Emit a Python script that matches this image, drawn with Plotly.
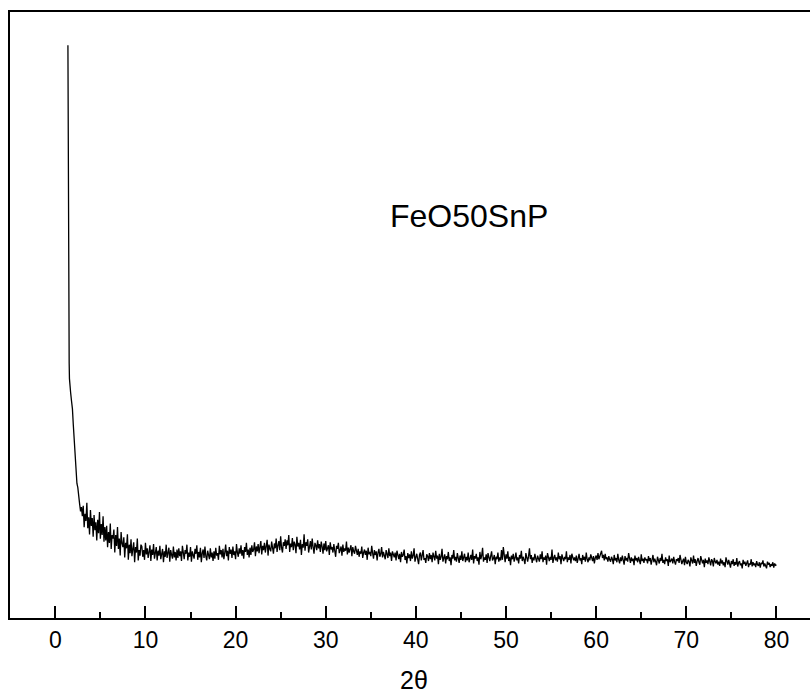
import numpy as np
import plotly.graph_objects as go

# Sharp low-angle peak (2theta, intensity)
peak_2theta = [1.40, 1.42, 1.44, 1.47, 1.50, 1.54, 1.57]
peak_int = [945, 760, 610, 520, 462, 420, 395]

# Main scan: 2theta from 1.6 to 80.0 in 0.1 degree steps
scan_start = 1.6
scan_step = 0.1
scan_int = [
    385, 372, 358, 345, 318, 290, 262, 248, 222, 215, 196, 188, 176, 183, 168, 185, 150, 172, 160, 190,
    148, 166, 138, 178, 152, 165, 134, 170, 145, 158, 128, 162, 140, 175, 131, 155, 137, 168, 126, 150,
    128, 152, 117, 142, 124, 156, 114, 137, 131, 146, 108, 137, 119, 150, 114, 131, 103, 142, 123, 117,
    133, 100, 124, 115, 138, 96, 121, 107, 130, 102, 114, 125, 92, 117, 108, 131, 95, 112, 103, 121,
    118, 101, 112, 96, 124, 105, 115, 99, 109, 120, 94, 113, 104, 122, 98, 108, 117, 95, 111, 103,
    119, 97, 106, 114, 92, 110, 101, 121, 99, 107, 116, 93, 112, 104, 98, 118, 100, 109, 95, 113,
    99, 115, 102, 110, 94, 119, 104, 97, 112, 106, 121, 95, 108, 101, 117, 93, 110, 103, 98, 114,
    106, 120, 96, 109, 100, 116, 92, 107, 113, 99, 118, 102, 95, 111, 104, 97, 115, 100, 108, 94,
    110, 98, 116, 103, 107, 96, 119, 105, 112, 100, 114, 97, 108, 121, 102, 111, 95, 117, 106, 113,
    99, 118, 104, 110, 97, 122, 108, 101, 115, 106, 120, 103, 112, 98, 117, 109, 124, 104, 113, 100,
    116, 104, 120, 109, 113, 125, 102, 118, 110, 122, 107, 115, 127, 105, 119, 112, 124, 108, 117, 129,
    103, 121, 114, 110, 126, 118, 106, 123, 115, 131, 109, 120, 127, 112, 135, 116, 108, 125, 119, 130,
    114, 128, 120, 137, 109, 123, 117, 132, 112, 126, 121, 107, 134, 118, 124, 113, 129, 104, 122, 116,
    138, 111, 125, 119, 130, 108, 121, 127, 113, 131, 117, 106, 124, 120, 112, 128, 115, 122, 109, 126,
    118, 106, 123, 112, 127, 110, 115, 120, 104, 125, 113, 117, 108, 122, 111, 101, 119, 114, 124, 107,
    112, 118, 103, 121, 109, 115, 111, 126, 105, 116, 108, 113, 120, 102, 117, 110, 106, 119, 112, 104,
    114, 101, 110, 106, 118, 99, 108, 113, 104, 111, 96, 116, 105, 109, 102, 119, 107, 98, 112, 104,
    110, 95, 108, 114, 101, 106, 117, 100, 109, 103, 97, 112, 105, 99, 115, 102, 108, 94, 110, 104,
    100, 108, 95, 111, 103, 97, 106, 92, 109, 101, 104, 113, 96, 102, 90, 107, 99, 105, 94, 110,
    98, 103, 115, 93, 100, 106, 97, 89, 104, 108, 95, 101, 112, 96, 99, 91, 105, 102, 94, 107,
    97, 104, 92, 108, 100, 95, 111, 98, 103, 89, 106, 96, 101, 114, 93, 99, 105, 90, 102, 97,
    109, 94, 100, 87, 104, 98, 112, 95, 101, 93, 107, 99, 91, 103, 96, 110, 94, 100, 106, 92,
    101, 95, 108, 92, 99, 104, 96, 113, 90, 102, 98, 106, 94, 100, 88, 109, 97, 103, 116, 93,
    100, 96, 105, 91, 107, 99, 94, 102, 110, 95, 98, 104, 89, 101, 97, 108, 93, 100, 95, 112,
    96, 117, 99, 92, 105, 98, 110, 94, 101, 87, 103, 97, 106, 93, 99, 108, 95, 100, 90, 104,
    98, 111, 94, 101, 96, 89, 107, 99, 93, 102, 115, 97, 104, 91, 100, 95, 106, 98, 92, 103,
    99, 93, 105, 97, 110, 92, 100, 96, 103, 88, 107, 98, 94, 101, 96, 113, 91, 99, 104, 95,
    100, 93, 108, 97, 102, 89, 105, 99, 94, 101, 97, 110, 92, 100, 96, 104, 90, 106, 98, 95,
    100, 94, 103, 91, 98, 106, 95, 99, 89, 104, 96, 101, 93, 108, 97, 92, 100, 95, 105, 98,
    94, 102, 90, 99, 103, 96, 107, 97, 101, 104, 111, 99, 104, 95, 106, 97, 100, 93, 102, 96,
    93, 101, 97, 89, 104, 95, 99, 92, 106, 96, 90, 100, 94, 103, 97, 88, 102, 95, 99, 93,
    107, 96, 91, 100, 94, 98, 87, 103, 95, 99, 92, 101, 96, 89, 105, 94, 98, 91, 100, 95,
    97, 90, 102, 94, 99, 88, 96, 104, 92, 98, 93, 87, 101, 95, 90, 99, 94, 106, 91, 96,
    89, 100, 94, 97, 86, 103, 92, 95, 98, 90, 101, 93, 88, 97, 94, 99, 91, 104, 95, 89,
    94, 98, 87, 101, 92, 89, 96, 93, 85, 100, 95, 90, 103, 91, 97, 86, 94, 99, 92, 88,
    102, 93, 90, 96, 84, 98, 91, 95, 89, 100, 92, 87, 97, 94, 85, 99, 93, 90, 96, 88,
    93, 86, 98, 90, 95, 87, 92, 84, 100, 91, 88, 96, 90, 83, 94, 89, 97, 86, 92, 88,
    99, 85, 91, 94, 87, 90, 82, 96, 89, 93, 86, 91, 95, 84, 90, 88, 97, 85, 92, 87,
    90, 84, 94, 88, 86, 92, 83, 91, 89, 95, 85, 90, 87, 82, 93, 88, 91, 84, 89, 86,
    92, 83, 90, 87, 88,
]
scan_2theta = list(np.round(scan_start + scan_step * np.arange(len(scan_int)), 2))

x_vals = peak_2theta + scan_2theta
y_vals = peak_int + scan_int

sample_label = "FeO50SnP"
x_title = "2θ"
x_tickvals = [0, 10, 20, 30, 40, 50, 60, 70, 80]

FONT = "Arial, 'Liberation Sans', sans-serif"

fig = go.Figure()
fig.add_trace(go.Scatter(x=x_vals, y=y_vals, mode="lines",
                         line=dict(color="black", width=1.3), hoverinfo="skip",
                         showlegend=False))

fig.update_layout(
    width=810, height=695,
    margin=dict(l=10, r=0, t=12, b=77, pad=0),
    paper_bgcolor="white", plot_bgcolor="white",
    font=dict(family=FONT, color="black"),
    xaxis=dict(
        range=[-5.025, 83.72],
        tickvals=x_tickvals,
        ticks="inside", ticklen=12, tickwidth=2, tickcolor="black",
        minor=dict(ticks="inside", ticklen=6, tickwidth=2, tickcolor="black",
                   dtick=5, tick0=5, showgrid=False),
        showline=True, linewidth=2, linecolor="black", mirror=True,
        showgrid=False, zeroline=False,
        tickfont=dict(size=23, family=FONT, color="black"),
    ),
    yaxis=dict(
        range=[0, 1000],
        showline=True, linewidth=2, linecolor="black", mirror=False,
        showticklabels=False, ticks="", showgrid=False, zeroline=False,
    ),
    annotations=[
        dict(text=sample_label, xref="paper", yref="paper", x=0.574, y=0.663,
             xanchor="center", yanchor="middle", showarrow=False,
             font=dict(size=32, family=FONT, color="black")),
        dict(text=x_title, xref="paper", yref="paper", x=0.505, y=-0.103,
             xanchor="center", yanchor="middle", showarrow=False,
             font=dict(size=25, family=FONT, color="black")),
    ],
)

fig.write_html("out.html")
